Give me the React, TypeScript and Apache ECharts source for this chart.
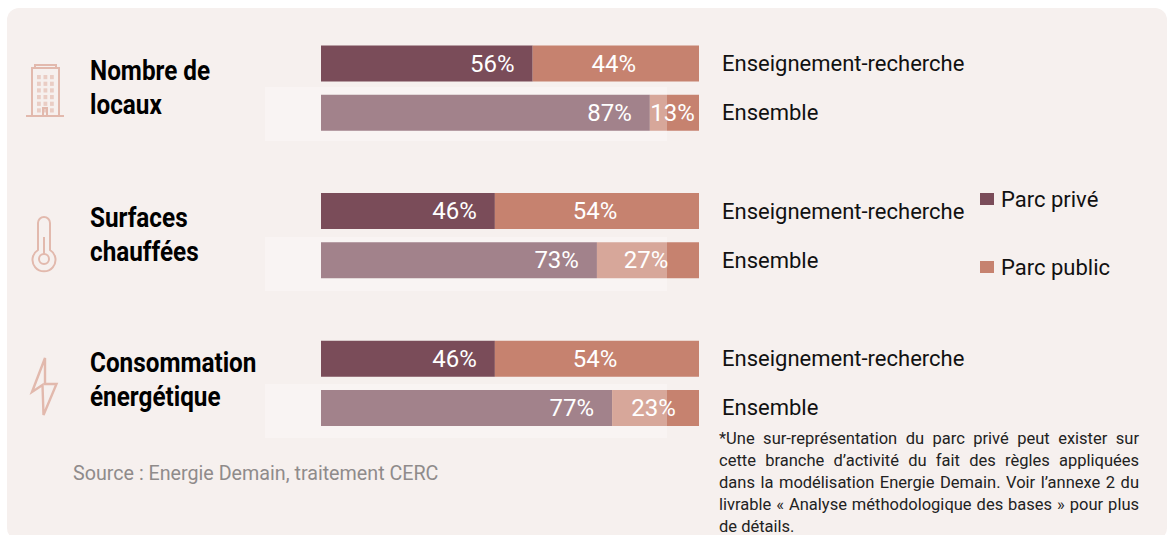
import React, { useEffect, useRef } from "react";
import * as echarts from "echarts";

const categories = ["Enseignement-recherche", "Ensemble", "", "Enseignement-recherche", "Ensemble", "", "Enseignement-recherche", "Ensemble"];
const prive: (number | null)[] = [56, 87, null, 46, 73, null, 46, 77];
const publicV: (number | null)[] = [44, 13, null, 54, 27, null, 54, 23];
const seriesNames = ["Parc privé", "Parc public"];
const titles = [["Nombre de", "locaux"], ["Surfaces", "chauffées"], ["Consommation", "énergétique"]];
const titleY = [71, 218, 363];
const overlayRows = [87, 237, 384];
const source = "Source : Energie Demain, traitement CERC";
const note = [
  "*Une sur-représentation du parc privé peut exister sur",
  "cette branche d’activité du fait des règles appliquées",
  "dans la modélisation Energie Demain. Voir l’annexe 2 du",
  "livrable « Analyse méthodologique des bases » pour plus",
  "de détails.",
];

const FONT = "Roboto, sans-serif";
const DARK = "#7A4C59";
const PUB = "#C6826F";
const ICON = "#E2B9AD";
const NOTE_WIDTH = 420;
const NOTE_FONT = `16.5px ${FONT}`;

const buildingD =
  "M32 68H59V116H32Z M35 68V65H56V68 M26 116H64 M43 116V108H47V116";
const thermoD =
  "M38 250V223A6 6 0 0 1 50 223V250A11.5 11.5 0 1 1 38 250Z M44 237V254 M49 259A5 5 0 1 1 39 259A5 5 0 1 1 49 259Z";
const boltD = "M45 358L32 392L42.5 385L43.5 415L56.5 384H45Z";

function pathShape(d: string) {
  return (echarts.graphic as any).extendPath(d, {});
}
echarts.graphic.registerShape("iconB", pathShape(buildingD));
echarts.graphic.registerShape("iconT", pathShape(thermoD));
echarts.graphic.registerShape("iconL", pathShape(boltD));

export default function App() {
  const ref = useRef<HTMLDivElement>(null);
  useEffect(() => {
    const chart = echarts.init(ref.current!, undefined, { renderer: "svg" });
    const win: any[] = [];
    [37, 43.5, 50].forEach((x) =>
      [75, 81.7, 88.3, 95, 101.7, 108.3].forEach((y) => {
        win.push({ type: "rect", shape: { x, y, width: 3.8, height: 4.2 }, style: { fill: "#EACDC4" }, z: 5 });
      })
    );
    const graphics: any[] = [
      { type: "rect", z: -10, shape: { x: 7, y: 8, width: 1160, height: 532, r: 12 }, style: { fill: "#F6F0EE" } },
      ...overlayRows.map((y) => ({
        type: "rect", z: 10, shape: { x: 265, y, width: 402, height: 54 }, style: { fill: "rgba(255,255,255,0.3)" },
      })),
      ...win,
      { type: "iconB", z: 6, style: { fill: "none", stroke: ICON, lineWidth: 2 } },
      { type: "iconT", z: 6, style: { fill: "none", stroke: ICON, lineWidth: 2 } },
      { type: "iconL", z: 6, style: { fill: "none", stroke: ICON, lineWidth: 2.4 } },
      ...titles.flatMap((t, i) =>
        t.map((line, j) => ({
          type: "text", z: 12, x: 90, y: titleY[i] + j * 34, scaleX: 0.9,
          style: { text: line, fill: "#000", font: `bold 27px ${FONT}`, verticalAlign: "middle" },
        }))
      ),
      { type: "text", z: 12, x: 73, y: 473, style: { text: source, fill: "#8F8B8B", font: `19.7px ${FONT}`, verticalAlign: "middle" } },
      ...note.map((line, i) => ({
        type: "text", z: 12, x: 719, y: 438 + i * 22.2,
        style: { text: line, fill: "#222", font: NOTE_FONT, verticalAlign: "middle" },
      })),
    ];
    chart.setOption({
      animation: false,
      graphic: graphics,
      grid: { left: 321, top: 38.9, width: 378, height: 393.6 },
      xAxis: { type: "value", min: 0, max: 100, show: false },
      yAxis: {
        type: "category", inverse: true, position: "right", data: categories,
        axisLine: { show: false }, axisTick: { show: false },
        axisLabel: { margin: 23, color: "#111", fontFamily: FONT, fontSize: 22, interval: 0 },
      },
      legend: {
        orient: "vertical", left: 975, top: 183, itemWidth: 14, itemHeight: 12, itemGap: 46,
        icon: "rect", data: seriesNames,
        textStyle: { color: "#111", fontFamily: FONT, fontSize: 22, padding: [0, 0, 0, 2] },
      },
      series: [
        {
          name: seriesNames[0], type: "bar", stack: "t", barWidth: 36, data: prive,
          itemStyle: { color: DARK },
          label: { show: true, position: "insideRight", distance: 18, color: "#fff", fontFamily: FONT, fontSize: 24, formatter: "{c}%" },
        },
        {
          name: seriesNames[1], type: "bar", stack: "t", barWidth: 36, data: publicV,
          itemStyle: { color: PUB },
          label: { show: true, position: "inside", offset: [-2, 0], color: "#fff", fontFamily: FONT, fontSize: 24, formatter: "{c}%" },
        },
      ],
    });
    // The reference's footnote is justified: widen the gaps of every full line.
    const ctx = document.createElement("canvas").getContext("2d")!;
    ctx.font = NOTE_FONT;
    ref.current!.querySelectorAll("text").forEach((el) => {
      const i = note.indexOf(el.textContent || "");
      if (i < 0 || i === note.length - 1) return;
      const gaps = note[i].split(" ").length - 1;
      const extra = (NOTE_WIDTH - ctx.measureText(note[i]).width) / gaps;
      (el as any).style.wordSpacing = `${extra}px`;
    });
    return () => chart.dispose();
  }, []);
  return <div ref={ref} style={{ position: "absolute", left: 0, top: 0, width: 1168, height: 535 }} />;
}
